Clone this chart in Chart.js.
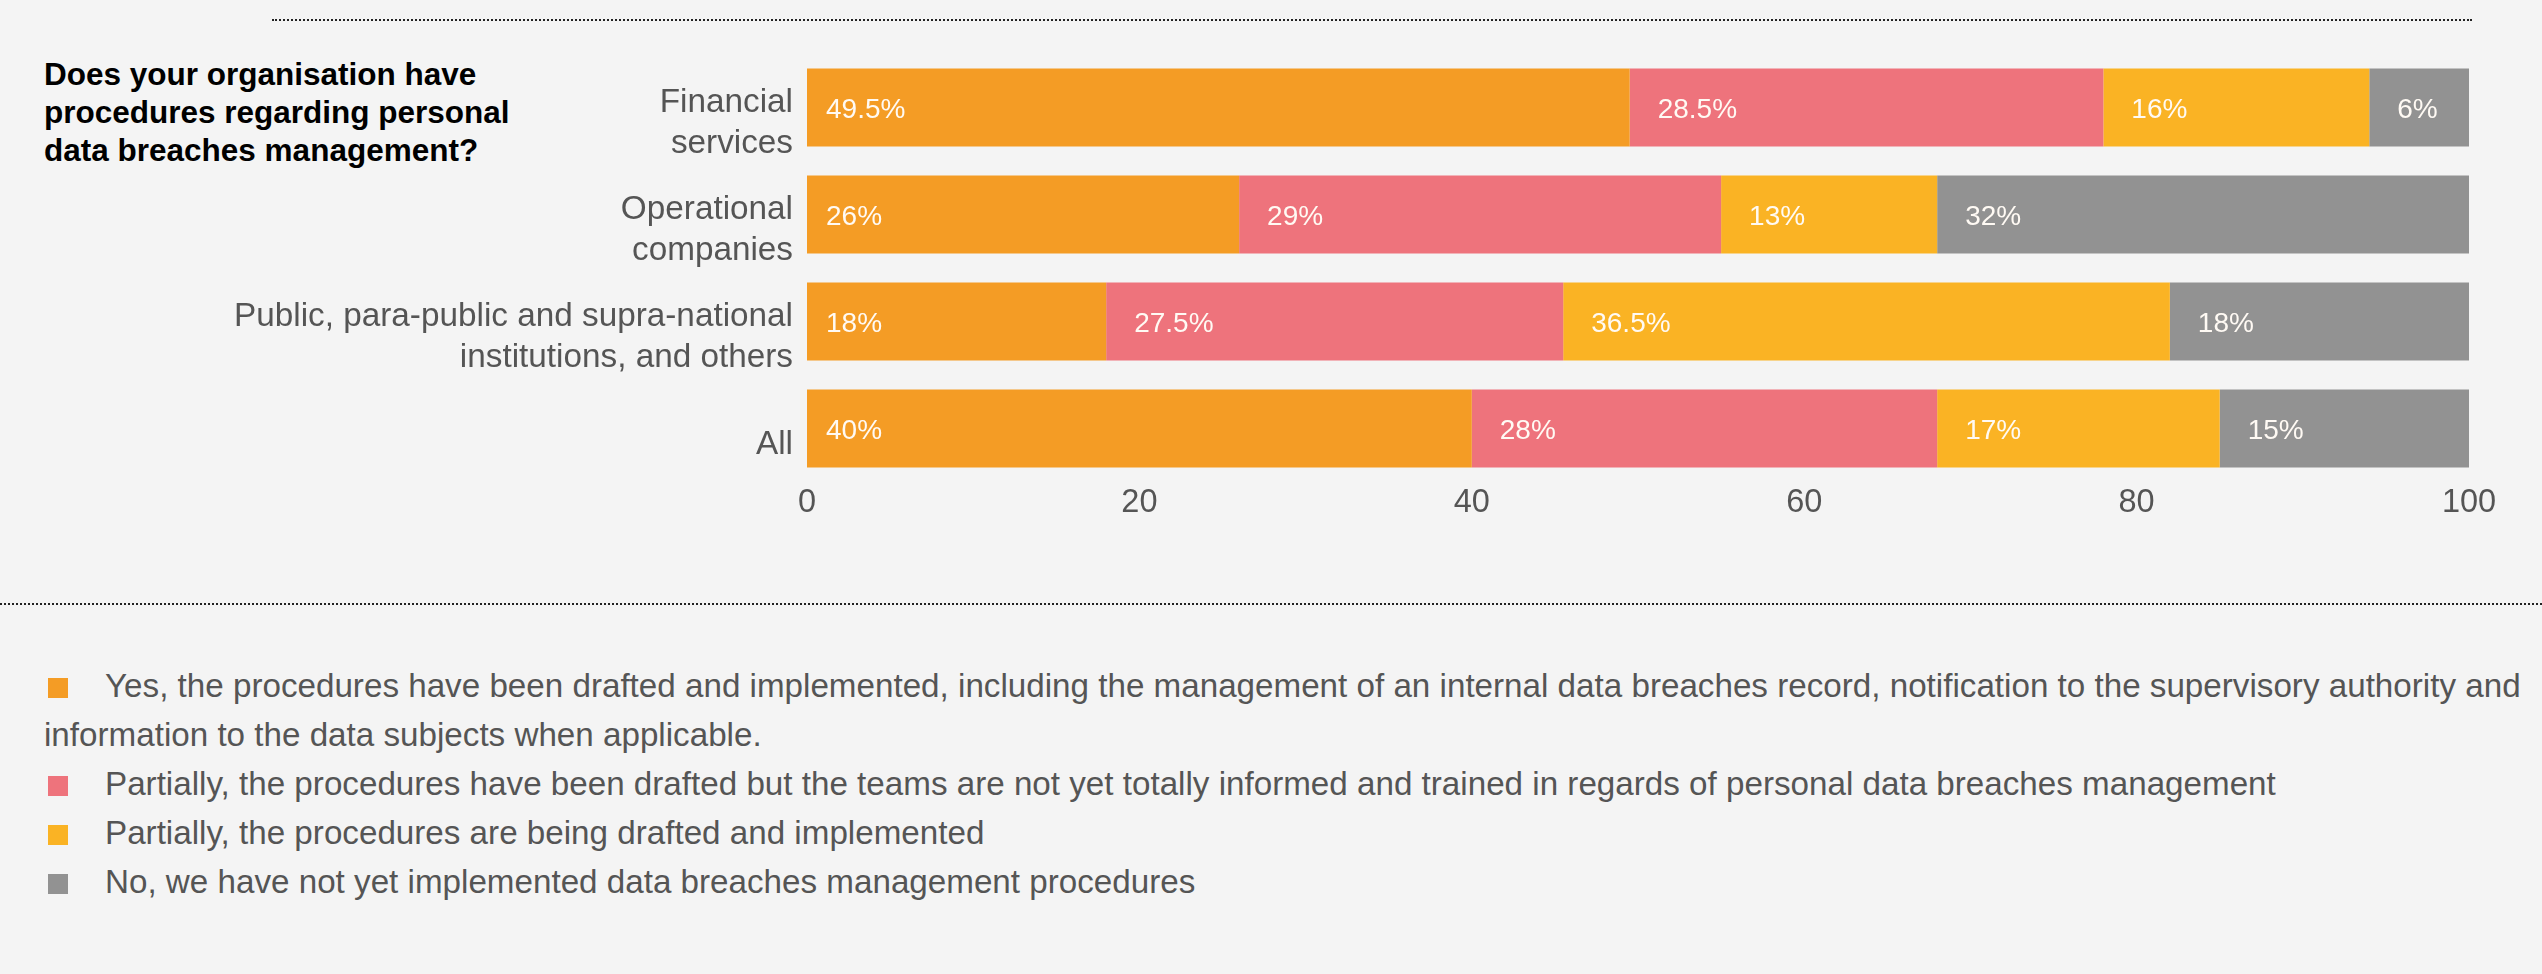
<!DOCTYPE html>
<html>
<head>
<meta charset="utf-8">
<script src="https://cdn.jsdelivr.net/npm/chart.js@4.4.1/dist/chart.umd.min.js"></script>
<style>
  html, body { margin:0; padding:0; background:#f4f4f4; }
  body { width:2542px; height:974px; position:relative; overflow:hidden; font-family:"Liberation Sans", Arial, sans-serif; }
  #wrap { position:absolute; left:0; top:0; width:2542px; height:542px; }
  #title { position:absolute; left:44px; top:55px; font-weight:bold; font-size:31.5px; line-height:38px; color:#000; }
  .dots { position:absolute; height:0; border-top:2px dotted #222; }
  #legend { position:absolute; left:44px; top:661px; width:2492px; font-size:33.2px; line-height:49px; color:#555; }
  .mk { display:inline-block; width:20px; height:20px; margin-left:4px; margin-right:37px; vertical-align:-1px; }
</style>
</head>
<body>
<div class="dots" style="left:272px; top:19px; width:2200px;"></div>
<div class="dots" style="left:0px; top:603px; width:2542px;"></div>
<div id="title">Does your organisation have<br>procedures regarding personal<br>data breaches management?</div>
<div id="wrap"><canvas id="c"></canvas></div>
<div id="legend"></div>
<script>
const categories = [
  ["Financial", "services"],
  ["Operational", "companies"],
  ["Public, para-public and supra-national", "institutions, and others"],
  ["All"]
];
const seriesNames = [
  "Yes, the procedures have been drafted and implemented, including the management of an internal data breaches record, notification to the supervisory authority and information to the data subjects when applicable.",
  "Partially, the procedures have been drafted but the teams are not yet totally informed and trained in regards of personal data breaches management",
  "Partially, the procedures are being drafted and implemented",
  "No, we have not yet implemented data breaches management procedures"
];
const yesImplemented = [49.5, 26, 18, 40];
const partiallyDrafted = [28.5, 29, 27.5, 28];
const beingDrafted = [16, 13, 36.5, 17];
const notImplemented = [6, 32, 18, 15];
const xTicks = [0, 20, 40, 60, 80, 100];
const colours = ["#f49c25", "#ee737c", "#fab324", "#929292"];

const seriesValues = [yesImplemented, partiallyDrafted, beingDrafted, notImplemented];

const valueLabels = {
  id: 'valueLabels',
  afterDatasetsDraw(chart) {
    const ctx = chart.ctx;
    ctx.save();
    ctx.font = '28px "Liberation Sans", Arial, sans-serif';
    ctx.fillStyle = '#fffaf4';
    ctx.textAlign = 'left';
    ctx.textBaseline = 'middle';
    chart.data.datasets.forEach((ds, di) => {
      const meta = chart.getDatasetMeta(di);
      meta.data.forEach((el, i) => {
        const start = Math.min(el.base, el.x);
        const pad = di === 0 ? 19 : 28;
        ctx.fillText(ds.data[i] + '%', start + pad, el.y + 3);
      });
    });
    ctx.restore();
  }
};

new Chart(document.getElementById('c'), {
  type: 'bar',
  data: {
    labels: categories,
    datasets: seriesValues.map((vals, i) => ({
      label: seriesNames[i],
      data: vals,
      backgroundColor: colours[i],
      borderWidth: 0,
      categoryPercentage: 1,
      barPercentage: 0.73
    }))
  },
  options: {
    indexAxis: 'y',
    responsive: true,
    maintainAspectRatio: false,
    animation: false,
    layout: { padding: { top: 54, right: 73, left: 0, bottom: 0 } },
    plugins: { legend: { display: false }, tooltip: { enabled: false } },
    scales: {
      x: {
        stacked: true, min: 0, max: 100,
        afterBuildTicks: s => { s.ticks = xTicks.map(v => ({ value: v })); },
        afterFit: s => { s.height = 60; },
        grid: { display: false, drawTicks: false },
        border: { display: false },
        ticks: { color: '#555', padding: 2, font: { size: 32.5, family: '"Liberation Sans", Arial, sans-serif' } }
      },
      y: {
        stacked: true,
        afterFit: s => { s.width = 807; },
        grid: { display: false, drawTicks: false },
        border: { display: false },
        ticks: { color: '#555', padding: 14, labelOffset: 16, font: { size: 33.3, family: '"Liberation Sans", Arial, sans-serif', lineHeight: 1.22 } }
      }
    }
  },
  plugins: [valueLabels]
});

const legend = document.getElementById('legend');
seriesNames.forEach((name, i) => {
  const d = document.createElement('div');
  const m = document.createElement('span');
  m.className = 'mk';
  m.style.background = colours[i];
  d.appendChild(m);
  d.appendChild(document.createTextNode(name));
  legend.appendChild(d);
});
</script>
</body>
</html>
